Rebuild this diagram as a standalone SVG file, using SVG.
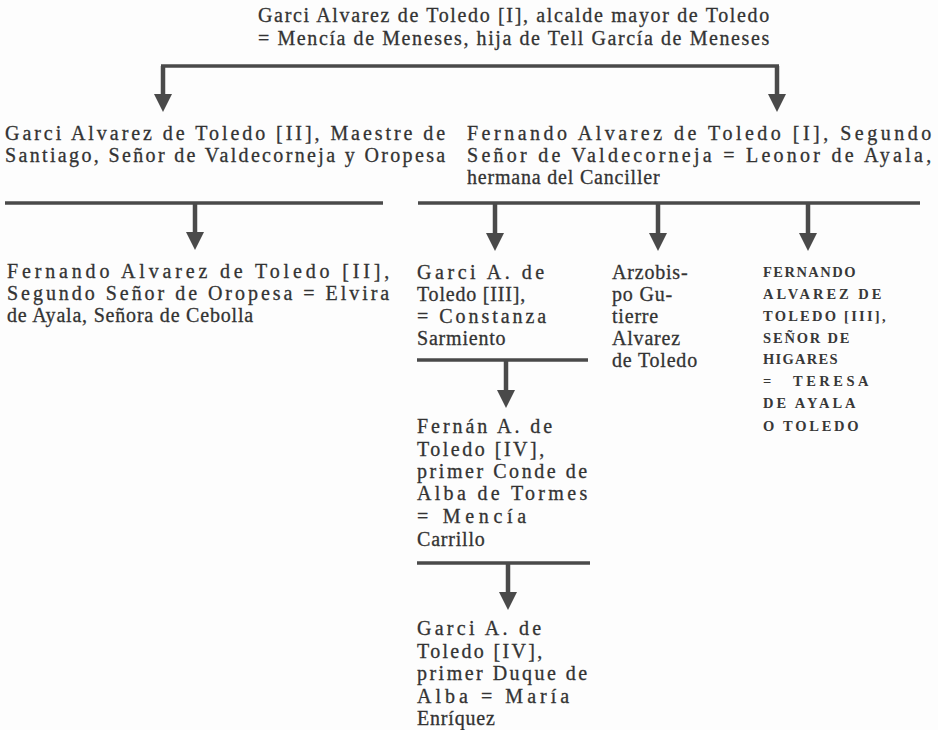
<svg xmlns="http://www.w3.org/2000/svg" width="938" height="730" viewBox="0 0 938 730">
<style>
.t{font-family:"Liberation Serif","Times New Roman",serif;font-size:20px;fill:#333;stroke:#333;stroke-width:0.3px;letter-spacing:0.8px}
.sc{font-family:"Liberation Serif","Times New Roman",serif;font-size:14.5px;font-weight:bold;fill:#383838;letter-spacing:1.5px}
.bar{stroke:#4a4a4a;stroke-width:3.5;fill:none}
.stem{stroke:#4a4a4a;stroke-width:4.5;fill:none;marker-end:url(#ah)}
</style>
<defs>
<marker id="ah" viewBox="0 0 18 18" markerUnits="userSpaceOnUse" markerWidth="18" markerHeight="18" refX="8" refY="9" orient="auto">
<path d="M0,0 L18,9 L0,18 z" fill="#4a4a4a"/>
</marker>
</defs>
<rect width="938" height="730" fill="#fdfdfd"/>
<g id="connectors">
<path class="bar" d="M161,66 H779"/>
<path class="stem" d="M163,66 V102"/>
<path class="stem" d="M777,66 V102"/>
<path class="bar" d="M5,203 H383"/>
<path class="stem" d="M195,203 V240"/>
<path class="bar" d="M418,203 H920"/>
<path class="stem" d="M495,203 V241"/>
<path class="stem" d="M658,203 V241"/>
<path class="stem" d="M808,203 V241"/>
<path class="bar" d="M417,360 H588"/>
<path class="stem" d="M506,360 V398"/>
<path class="bar" d="M417,563 H590"/>
<path class="stem" d="M508,563 V600"/>
</g>
<g id="n-garci-i">
<text class="t" x="258" y="22" textLength="512" lengthAdjust="spacing">Garci Alvarez de Toledo [I], alcalde mayor de Toledo</text>
<text class="t" x="258" y="45" textLength="512" lengthAdjust="spacing">= Mencía de Meneses, hija de Tell García de Meneses</text>
</g>
<g id="n-garci-ii">
<text class="t" x="5" y="140" textLength="441" lengthAdjust="spacing">Garci Alvarez de Toledo [II], Maestre de</text>
<text class="t" x="5" y="162" textLength="441" lengthAdjust="spacing">Santiago, Señor de Valdecorneja y Oropesa</text>
</g>
<g id="n-fernando-i">
<text class="t" x="467" y="140" textLength="465" lengthAdjust="spacing">Fernando Alvarez de Toledo [I], Segundo</text>
<text class="t" x="467" y="162" textLength="465" lengthAdjust="spacing">Señor de Valdecorneja = Leonor de Ayala,</text>
<text class="t" x="467" y="184">hermana del Canciller</text>
</g>
<g id="n-fernando-ii">
<text class="t" x="7" y="278" textLength="383" lengthAdjust="spacing">Fernando Alvarez de Toledo [II],</text>
<text class="t" x="7" y="300" textLength="383" lengthAdjust="spacing">Segundo Señor de Oropesa = Elvira</text>
<text class="t" x="7" y="322">de Ayala, Señora de Cebolla</text>
</g>
<g id="n-garci-iii">
<text class="t" x="417" y="279" textLength="128" lengthAdjust="spacing">Garci A. de</text>
<text class="t" x="417" y="301">Toledo [III],</text>
<text class="t" x="417" y="323" textLength="130" lengthAdjust="spacing">= Constanza</text>
<text class="t" x="417" y="345">Sarmiento</text>
</g>
<g id="n-gutierre">
<text class="t" x="612" y="279">Arzobis-</text>
<text class="t" x="612" y="301">po Gu-</text>
<text class="t" x="612" y="323">tierre</text>
<text class="t" x="612" y="345">Alvarez</text>
<text class="t" x="612" y="367">de Toledo</text>
</g>
<g id="n-fernando-iii">
<text class="sc" x="763" y="277" textLength="94" lengthAdjust="spacing">FERNANDO</text>
<text class="sc" x="763" y="299" textLength="120" lengthAdjust="spacing">ALVAREZ DE</text>
<text class="sc" x="763" y="321" textLength="124" lengthAdjust="spacing">TOLEDO [III],</text>
<text class="sc" x="763" y="343" textLength="88" lengthAdjust="spacing">SEÑOR DE</text>
<text class="sc" x="763" y="364" textLength="76" lengthAdjust="spacing">HIGARES</text>
<text class="sc" x="763" y="386">=</text>
<text class="sc" x="793" y="386" textLength="77" lengthAdjust="spacing">TERESA</text>
<text class="sc" x="763" y="408" textLength="94" lengthAdjust="spacing">DE AYALA</text>
<text class="sc" x="763" y="431" textLength="97" lengthAdjust="spacing">O TOLEDO</text>
</g>
<g id="n-fernan-iv">
<text class="t" x="417" y="433" textLength="136" lengthAdjust="spacing">Fernán A. de</text>
<text class="t" x="417" y="456" textLength="128" lengthAdjust="spacing">Toledo [IV],</text>
<text class="t" x="417" y="478" textLength="171" lengthAdjust="spacing">primer Conde de</text>
<text class="t" x="417" y="500" textLength="171" lengthAdjust="spacing">Alba de Tormes</text>
<text class="t" x="417" y="523" textLength="110" lengthAdjust="spacing">= Mencía</text>
<text class="t" x="417" y="546">Carrillo</text>
</g>
<g id="n-garci-iv">
<text class="t" x="417" y="635" textLength="125" lengthAdjust="spacing">Garci A. de</text>
<text class="t" x="417" y="658" textLength="126" lengthAdjust="spacing">Toledo [IV],</text>
<text class="t" x="417" y="680" textLength="171" lengthAdjust="spacing">primer Duque de</text>
<text class="t" x="417" y="703" textLength="153" lengthAdjust="spacing">Alba = María</text>
<text class="t" x="417" y="725">Enríquez</text>
</g>
</svg>
